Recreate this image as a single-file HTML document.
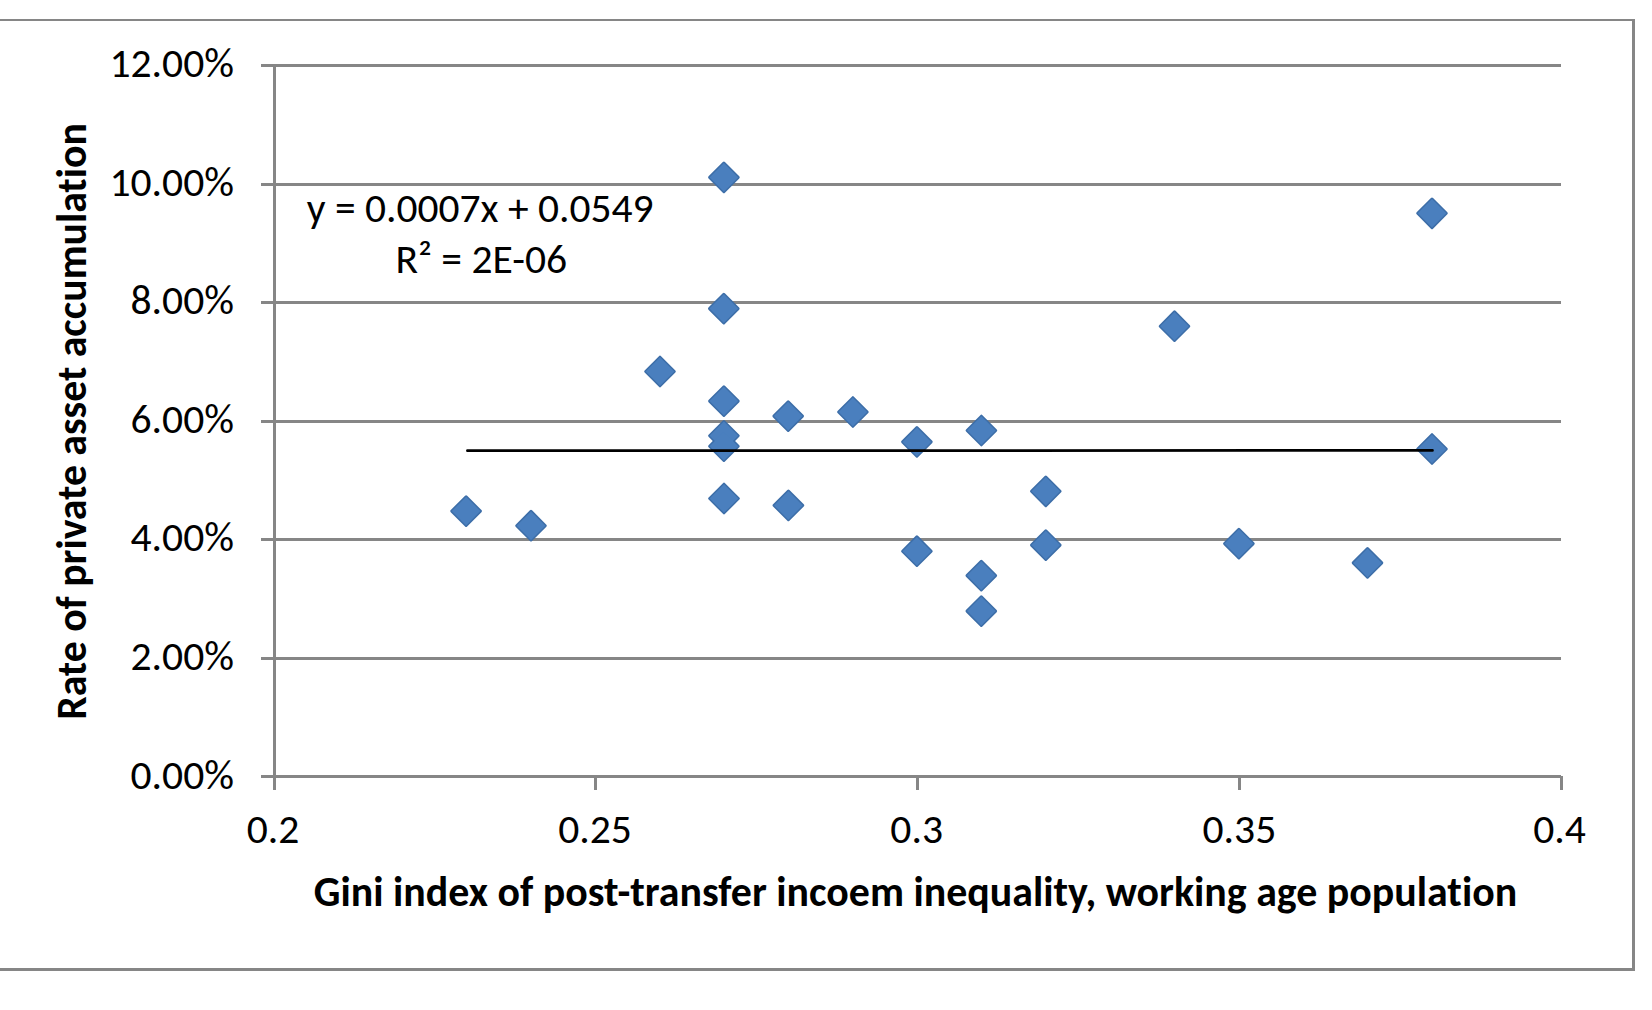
<!DOCTYPE html>
<html><head><meta charset="utf-8"><title>Gini index vs rate of private asset accumulation</title>
<style>
html,body{margin:0;padding:0;background:#fff;}
body{width:1652px;height:1010px;overflow:hidden;}
svg{display:block;}
text{font-family:Carlito,"Liberation Sans",sans-serif;fill:#000;font-variant-ligatures:none;font-feature-settings:"liga" 0,"clig" 0;}
.b{font-weight:bold;}
</style></head><body>
<svg width="1652" height="1010" viewBox="0 0 1652 1010">
<rect x="0" y="0" width="1652" height="1010" fill="#fff"/>
<rect x="0" y="19" width="1635" height="2" fill="#868686"/>
<rect x="1632" y="19" width="3" height="952" fill="#868686"/>
<rect x="0" y="968" width="1635" height="3" fill="#868686"/>
<line x1="261" y1="65.5" x2="1561" y2="65.5" stroke="#868686" stroke-width="3"/>
<line x1="261" y1="184.5" x2="1561" y2="184.5" stroke="#868686" stroke-width="3"/>
<line x1="261" y1="302.5" x2="1561" y2="302.5" stroke="#868686" stroke-width="3"/>
<line x1="261" y1="421.5" x2="1561" y2="421.5" stroke="#868686" stroke-width="3"/>
<line x1="261" y1="539.5" x2="1561" y2="539.5" stroke="#868686" stroke-width="3"/>
<line x1="261" y1="658.5" x2="1561" y2="658.5" stroke="#868686" stroke-width="3"/>
<line x1="261" y1="776.5" x2="1561" y2="776.5" stroke="#868686" stroke-width="3"/>
<line x1="274.5" y1="64" x2="274.5" y2="790" stroke="#868686" stroke-width="3"/>
<line x1="595.5" y1="776" x2="595.5" y2="790" stroke="#868686" stroke-width="3"/>
<line x1="917.5" y1="776" x2="917.5" y2="790" stroke="#868686" stroke-width="3"/>
<line x1="1239.5" y1="776" x2="1239.5" y2="790" stroke="#868686" stroke-width="3"/>
<line x1="1561.5" y1="776" x2="1561.5" y2="790" stroke="#868686" stroke-width="3"/>
<text x="234" y="76.9" font-size="41.6" text-anchor="end" textLength="124.56" lengthAdjust="spacingAndGlyphs">12.00%</text>
<text x="234" y="195.5" font-size="41.6" text-anchor="end" textLength="124.56" lengthAdjust="spacingAndGlyphs">10.00%</text>
<text x="234" y="314.2" font-size="41.6" text-anchor="end" textLength="103.48" lengthAdjust="spacingAndGlyphs">8.00%</text>
<text x="234" y="432.8" font-size="41.6" text-anchor="end" textLength="103.48" lengthAdjust="spacingAndGlyphs">6.00%</text>
<text x="234" y="551.4" font-size="41.6" text-anchor="end" textLength="103.48" lengthAdjust="spacingAndGlyphs">4.00%</text>
<text x="234" y="670.0" font-size="41.6" text-anchor="end" textLength="103.48" lengthAdjust="spacingAndGlyphs">2.00%</text>
<text x="234" y="788.7" font-size="41.6" text-anchor="end" textLength="103.48" lengthAdjust="spacingAndGlyphs">0.00%</text>
<text x="273.0" y="842.7" font-size="41.6" text-anchor="middle" textLength="52.67" lengthAdjust="spacingAndGlyphs">0.2</text>
<text x="595.0" y="842.7" font-size="41.6" text-anchor="middle" textLength="73.75" lengthAdjust="spacingAndGlyphs">0.25</text>
<text x="916.7" y="842.7" font-size="41.6" text-anchor="middle" textLength="52.67" lengthAdjust="spacingAndGlyphs">0.3</text>
<text x="1239.4" y="842.7" font-size="41.6" text-anchor="middle" textLength="73.75" lengthAdjust="spacingAndGlyphs">0.35</text>
<text x="1559.5" y="842.7" font-size="41.6" text-anchor="middle" textLength="52.67" lengthAdjust="spacingAndGlyphs">0.4</text>
<text class="b" x="915.5" y="905.5" font-size="41.6" text-anchor="middle" textLength="1203.4" lengthAdjust="spacingAndGlyphs">Gini index of post-transfer incoem inequality, working age population</text>
<text class="b" transform="translate(86.2 421.5) rotate(-90)" x="0" y="0" font-size="41.6" text-anchor="middle" textLength="596.7" lengthAdjust="spacingAndGlyphs">Rate of private asset accumulation</text>
<g fill="#4A7FBE" stroke="#3D6EA8" stroke-width="3" stroke-linejoin="round">
<path d="M466.1 496.8L480.4 511.1L466.1 525.4L451.8 511.1Z"/>
<path d="M531.0 511.4L545.3 525.7L531.0 540.0L516.7 525.7Z"/>
<path d="M660.0 357.2L674.3 371.5L660.0 385.8L645.7 371.5Z"/>
<path d="M723.9 163.1L738.2 177.4L723.9 191.7L709.6 177.4Z"/>
<path d="M723.8 294.3L738.1 308.6L723.8 322.9L709.5 308.6Z"/>
<path d="M723.9 386.8L738.2 401.1L723.9 415.4L709.6 401.1Z"/>
<path d="M723.9 421.5L738.2 435.8L723.9 450.1L709.6 435.8Z"/>
<path d="M723.9 431.9L738.2 446.2L723.9 460.5L709.6 446.2Z"/>
<path d="M724.0 484.2L738.3 498.5L724.0 512.8L709.7 498.5Z"/>
<path d="M788.2 401.8L802.5 416.1L788.2 430.4L773.9 416.1Z"/>
<path d="M788.4 491.1L802.7 505.4L788.4 519.7L774.1 505.4Z"/>
<path d="M852.9 397.7L867.2 412.0L852.9 426.3L838.6 412.0Z"/>
<path d="M916.9 427.6L931.2 441.9L916.9 456.2L902.6 441.9Z"/>
<path d="M916.9 536.9L931.2 551.2L916.9 565.5L902.6 551.2Z"/>
<path d="M981.4 416.2L995.7 430.5L981.4 444.8L967.1 430.5Z"/>
<path d="M981.3 561.3L995.6 575.6L981.3 589.9L967.0 575.6Z"/>
<path d="M981.3 596.8L995.6 611.1L981.3 625.4L967.0 611.1Z"/>
<path d="M1045.8 477.0L1060.1 491.3L1045.8 505.6L1031.5 491.3Z"/>
<path d="M1045.8 530.8L1060.1 545.1L1045.8 559.4L1031.5 545.1Z"/>
<path d="M1174.5 311.9L1188.8 326.2L1174.5 340.5L1160.2 326.2Z"/>
<path d="M1238.9 529.3L1253.2 543.6L1238.9 557.9L1224.6 543.6Z"/>
<path d="M1367.5 548.6L1381.8 562.9L1367.5 577.2L1353.2 562.9Z"/>
<path d="M1432.0 199.0L1446.3 213.3L1432.0 227.6L1417.7 213.3Z"/>
<path d="M1432.0 434.7L1446.3 449.0L1432.0 463.3L1417.7 449.0Z"/>
</g>
<g fill="#4A7FBE">
<path d="M466.1 496.8L480.4 511.1L466.1 525.4L451.8 511.1Z"/>
<path d="M531.0 511.4L545.3 525.7L531.0 540.0L516.7 525.7Z"/>
<path d="M660.0 357.2L674.3 371.5L660.0 385.8L645.7 371.5Z"/>
<path d="M723.9 163.1L738.2 177.4L723.9 191.7L709.6 177.4Z"/>
<path d="M723.8 294.3L738.1 308.6L723.8 322.9L709.5 308.6Z"/>
<path d="M723.9 386.8L738.2 401.1L723.9 415.4L709.6 401.1Z"/>
<path d="M723.9 421.5L738.2 435.8L723.9 450.1L709.6 435.8Z"/>
<path d="M723.9 431.9L738.2 446.2L723.9 460.5L709.6 446.2Z"/>
<path d="M724.0 484.2L738.3 498.5L724.0 512.8L709.7 498.5Z"/>
<path d="M788.2 401.8L802.5 416.1L788.2 430.4L773.9 416.1Z"/>
<path d="M788.4 491.1L802.7 505.4L788.4 519.7L774.1 505.4Z"/>
<path d="M852.9 397.7L867.2 412.0L852.9 426.3L838.6 412.0Z"/>
<path d="M916.9 427.6L931.2 441.9L916.9 456.2L902.6 441.9Z"/>
<path d="M916.9 536.9L931.2 551.2L916.9 565.5L902.6 551.2Z"/>
<path d="M981.4 416.2L995.7 430.5L981.4 444.8L967.1 430.5Z"/>
<path d="M981.3 561.3L995.6 575.6L981.3 589.9L967.0 575.6Z"/>
<path d="M981.3 596.8L995.6 611.1L981.3 625.4L967.0 611.1Z"/>
<path d="M1045.8 477.0L1060.1 491.3L1045.8 505.6L1031.5 491.3Z"/>
<path d="M1045.8 530.8L1060.1 545.1L1045.8 559.4L1031.5 545.1Z"/>
<path d="M1174.5 311.9L1188.8 326.2L1174.5 340.5L1160.2 326.2Z"/>
<path d="M1238.9 529.3L1253.2 543.6L1238.9 557.9L1224.6 543.6Z"/>
<path d="M1367.5 548.6L1381.8 562.9L1367.5 577.2L1353.2 562.9Z"/>
<path d="M1432.0 199.0L1446.3 213.3L1432.0 227.6L1417.7 213.3Z"/>
<path d="M1432.0 434.7L1446.3 449.0L1432.0 463.3L1417.7 449.0Z"/>
</g>
<line x1="467.4" y1="450.7" x2="1432.5" y2="450.4" stroke="#000" stroke-width="2.7" stroke-linecap="round"/>
<text x="480.2" y="221.8" font-size="41.6" text-anchor="middle" textLength="346.7" lengthAdjust="spacingAndGlyphs">y = 0.0007x + 0.0549</text>
<text x="481.3" y="273.0" font-size="41.6" text-anchor="middle" textLength="171.83" lengthAdjust="spacingAndGlyphs">R² = 2E-06</text>
</svg>
</body></html>
